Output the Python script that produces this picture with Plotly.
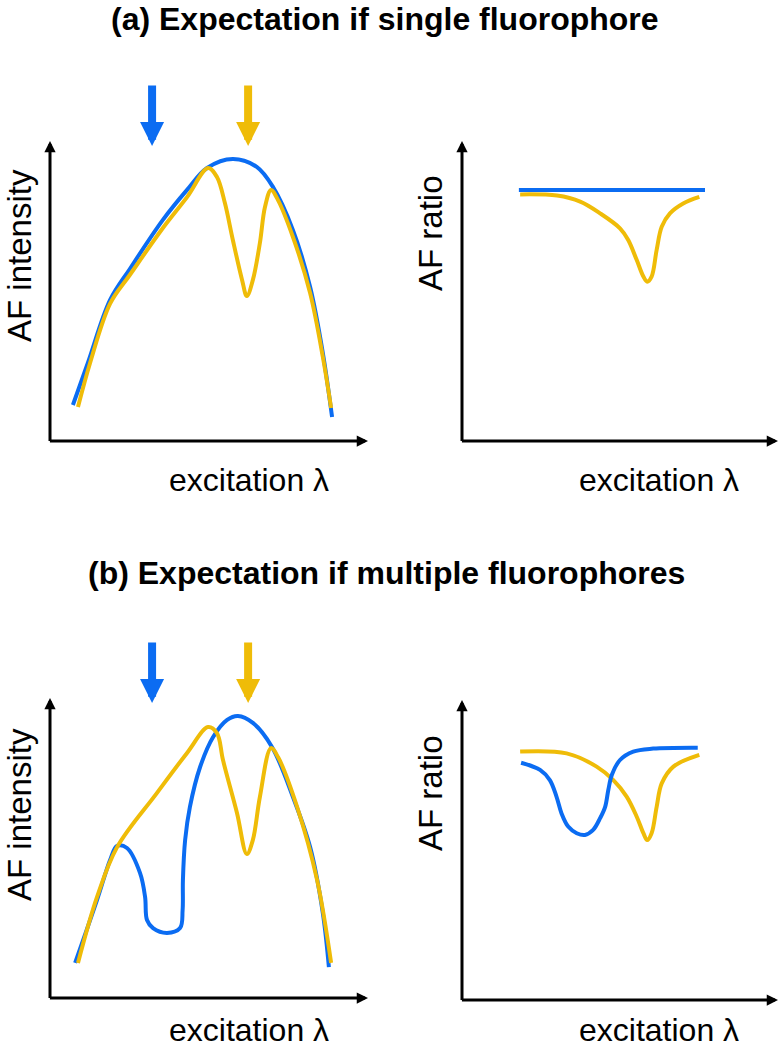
import plotly.graph_objects as go

W, H = 780, 1050
BLUE = "#0b6cf2"
YELLOW = "#efbc08"
FONT = "Liberation Sans, Arial, sans-serif"

# ---------------- data (arbitrary units, axes run 0..100) ----------------
# (a) single fluorophore: AF intensity vs excitation
a_int_blue_x = [7.2, 11.9, 18.9, 25.2, 35.5, 43.1, 49.4, 57.5, 65.1, 70.1, 76.4, 81.8, 85.8, 88.7]
a_int_blue_y = [12.0, 26.0, 47.0, 57.5, 73.7, 83.7, 91.0, 94.0, 91.3, 84.7, 70.3, 51.3, 29.3, 8.0]
a_int_yel_x = [8.8, 12.6, 18.9, 25.2, 35.5, 43.1, 49.7, 52.5, 55.0, 57.5, 60.4, 61.9, 63.8,
               66.0, 67.6, 69.5, 71.7, 76.4, 81.8, 85.8, 88.4]
a_int_yel_y = [11.3, 26.0, 45.8, 55.5, 71.0, 81.3, 91.0, 88.0, 79.3, 67.0, 53.7, 48.3, 53.7,
               66.0, 78.0, 83.7, 80.3, 68.0, 49.3, 28.0, 11.0]
# (a) AF ratio
a_rat_blue_x = [18.0, 76.9]
a_rat_blue_y = [83.7, 83.7]
a_rat_yel_x = [18.4, 30.1, 37.4, 43.7, 50.0, 52.6, 55.3, 57.4, 58.6, 60.0, 61.6, 63.2, 65.8, 70.0, 75.1]
a_rat_yel_y = [82.2, 81.8, 79.8, 75.9, 70.9, 67.0, 60.3, 54.8, 53.1, 54.8, 63.7, 71.4, 75.9, 79.2, 81.4]

# (b) multiple fluorophores: AF intensity
b_int_blue_x = [7.9, 14.8, 18.9, 21.1, 24.2, 28.3, 29.9, 30.5, 32.4, 36.8, 40.9, 41.7, 41.8, 42.5,
                44.0, 47.2, 51.3, 55.7, 59.1, 63.8, 69.8, 76.4, 81.8, 85.8, 87.7]
b_int_blue_y = [11.7, 32.7, 46.0, 50.7, 50.0, 41.7, 33.7, 26.0, 23.3, 21.7, 23.3, 29.3, 39.3, 52.7,
                63.7, 77.0, 87.0, 92.7, 94.0, 91.7, 83.7, 67.0, 50.3, 28.3, 10.3]
b_int_yel_x = [8.8, 14.8, 21.1, 33.6, 43.1, 49.7, 52.5, 54.4, 58.8, 61.9, 63.8, 66.0, 69.5, 71.7,
               77.7, 84.0, 88.4]
b_int_yel_y = [11.7, 33.7, 50.3, 68.3, 81.7, 90.3, 88.3, 79.3, 61.7, 48.0, 52.7, 67.0, 83.3, 80.3,
               63.7, 39.3, 11.7]
# (b) AF ratio
b_rat_blue_x = [18.7, 24.7, 27.8, 29.9, 31.5, 33.6, 36.3, 38.9, 41.5, 43.7, 45.3, 46.3, 47.4, 50.0,
                54.2, 60.5, 74.6]
b_rat_blue_y = [79.1, 76.7, 73.3, 67.8, 62.2, 57.8, 55.6, 55.0, 56.7, 60.6, 64.4, 70.0, 75.0, 80.0,
                82.8, 83.8, 84.1]
b_rat_yel_x = [18.4, 33.1, 42.6, 47.9, 52.1, 55.3, 57.4, 58.6, 60.0, 61.6, 63.2, 66.9, 75.1]
b_rat_yel_y = [82.8, 82.2, 77.8, 73.3, 67.8, 61.1, 55.6, 53.3, 55.6, 64.4, 72.2, 77.8, 81.7]

# excitation wavelengths marked by arrows (x units of intensity panels)
exc_blue = 32.1
exc_yellow = 62.3

titles = ["(a) Expectation if single fluorophore", "(b) Expectation if multiple fluorophores"]
ylabels = ["AF intensity", "AF ratio"]
xlabel = "excitation \u03bb"

# ---------------- panel geometry (window pixels) ----------------
panels = [
    dict(ax="", ox=50, oy=441, sx=3.18, sy=3.0, box=(20, 375, 70, 455)),
    dict(ax="2", ox=462, oy=441, sx=3.16, sy=3.0, box=(440, 780, 110, 455)),
    dict(ax="3", ox=50, oy=998, sx=3.18, sy=3.0, box=(20, 375, 625, 1012)),
    dict(ax="4", ox=462, oy=1000, sx=3.16, sy=3.0, box=(440, 780, 670, 1014)),
]


def fx(px):
    return px / W


def fy(py):
    return 1 - py / H


fig = go.Figure()
layout_axes = {}
for p in panels:
    x0, x1, yt, yb = p["box"]
    xr = [(x0 - p["ox"]) / p["sx"], (x1 - p["ox"]) / p["sx"]]
    yr = [(p["oy"] - yb) / p["sy"], (p["oy"] - yt) / p["sy"]]
    layout_axes["xaxis" + p["ax"]] = dict(domain=[fx(x0), fx(x1)], range=xr, visible=False,
                                         anchor="y" + p["ax"], fixedrange=True)
    layout_axes["yaxis" + p["ax"]] = dict(domain=[fy(yb), fy(yt)], range=yr, visible=False,
                                         anchor="x" + p["ax"], fixedrange=True)


def line(x, y, color, ax):
    fig.add_trace(go.Scatter(x=x, y=y, mode="lines",
                             line=dict(color=color, width=4, shape="spline", smoothing=1.0),
                             xaxis="x" + ax, yaxis="y" + ax, showlegend=False, hoverinfo="skip"))


line(a_int_blue_x, a_int_blue_y, BLUE, "")
line(a_int_yel_x, a_int_yel_y, YELLOW, "")
line(a_rat_yel_x, a_rat_yel_y, YELLOW, "2")
line(a_rat_blue_x, a_rat_blue_y, BLUE, "2")
line(b_int_blue_x, b_int_blue_y, BLUE, "3")
line(b_int_yel_x, b_int_yel_y, YELLOW, "3")
line(b_rat_yel_x, b_rat_yel_y, YELLOW, "4")
line(b_rat_blue_x, b_rat_blue_y, BLUE, "4")

annotations = []
# axes with arrowheads
for p in panels:
    a = p["ax"]
    common = dict(xref="x" + a, yref="y" + a, axref="x" + a, ayref="y" + a, text="",
                  showarrow=True, arrowhead=2, arrowwidth=3, arrowsize=0.75, arrowcolor="black",
                  standoff=0)
    annotations.append(dict(x=100, y=0, ax=-0.5, ay=0, **common))
    annotations.append(dict(x=0, y=100, ax=0, ay=-0.5, **common))

# excitation arrows above the intensity panels
for a in ["", "3"]:
    for xe, col in [(exc_blue, BLUE), (exc_yellow, YELLOW)]:
        annotations.append(dict(x=xe, y=98.3, ax=xe, ay=119, xref="x" + a, yref="y" + a,
                                axref="x" + a, ayref="y" + a, text="", showarrow=True,
                                arrowhead=2, arrowwidth=8, arrowsize=0.6, arrowcolor=col,
                                standoff=0))


def txt(t, px, py, size=32, angle=0, bold=False):
    annotations.append(dict(text=("<b>%s</b>" % t) if bold else t, x=fx(px), y=fy(py),
                            xref="paper", yref="paper", showarrow=False, textangle=angle,
                            xanchor="center", yanchor="middle",
                            font=dict(family=FONT, size=size, color="black")))


txt(titles[0], 385, 19, size=32, bold=True)
txt(titles[1], 386, 573, size=32, bold=True)
txt(ylabels[0], 19, 256, size=33, angle=-90)
txt(ylabels[1], 430, 233, size=33, angle=-90)
txt(ylabels[0], 19, 815, size=33, angle=-90)
txt(ylabels[1], 430, 793, size=33, angle=-90)
txt(xlabel, 249, 480)
txt(xlabel, 659, 480)
txt(xlabel, 249, 1030)
txt(xlabel, 659, 1030)

fig.update_layout(width=W, height=H, margin=dict(l=0, r=0, t=0, b=0),
                  paper_bgcolor="white", plot_bgcolor="rgba(0,0,0,0)",
                  annotations=annotations, showlegend=False, **layout_axes)

# remove the default 8px page margin so the figure fills the window exactly
fig.write_html("out.html", config={"displayModeBar": False},
               post_script="document.body.style.margin='0';document.body.style.overflow='hidden';")
